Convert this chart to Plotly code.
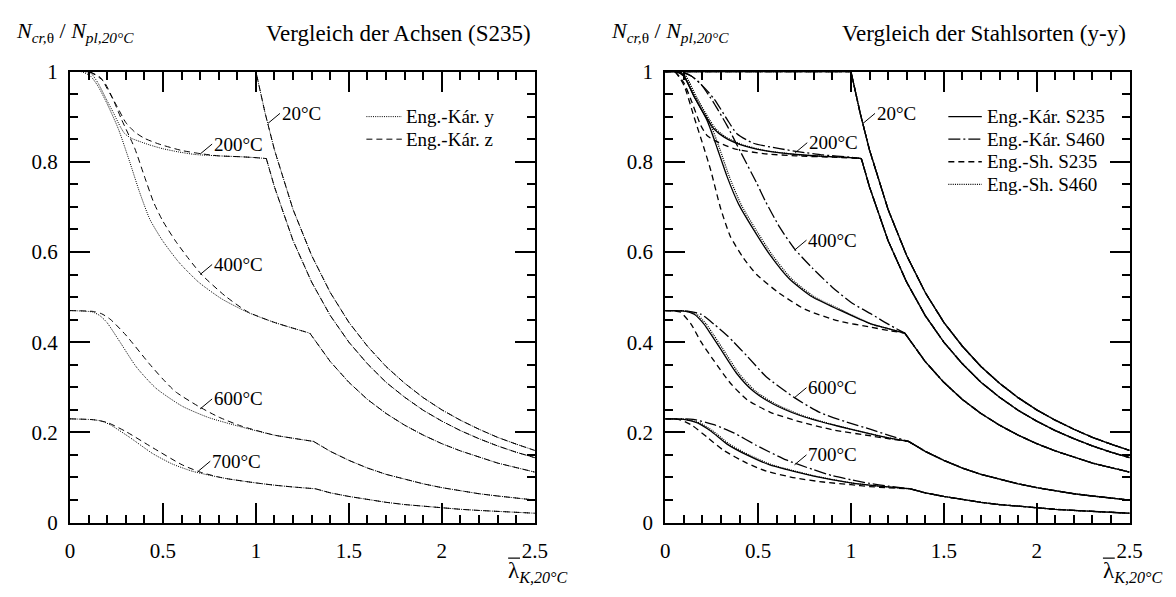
import plotly.graph_objects as go

# ---------------- tick definitions ----------------
X_MAJOR = 0.5
X_MINOR = 0.1
Y_MAJOR = 0.2
Y_MINOR = 0.05

# ---------------- elastic branches (shared by all series) ----------------
T20_x = [0.0, 1.0, 1.05, 1.1, 1.2, 1.3, 1.4, 1.5, 1.6, 1.7, 1.8, 1.9, 2.0, 2.1, 2.2, 2.3, 2.4, 2.5]
T20_y = [1.0, 1.0, 0.907, 0.826, 0.694, 0.592, 0.51, 0.444, 0.391, 0.346, 0.309, 0.277, 0.25, 0.227, 0.207, 0.189, 0.174, 0.16]
T200_x = [1.056, 1.1, 1.2, 1.3, 1.4, 1.5, 1.6, 1.7, 1.8, 1.9, 2.0, 2.1, 2.2, 2.3, 2.4, 2.5]
T200_y = [0.807, 0.744, 0.625, 0.533, 0.459, 0.40, 0.352, 0.311, 0.278, 0.249, 0.225, 0.204, 0.186, 0.170, 0.156, 0.144]
T400_x = [1.29, 1.4, 1.5, 1.6, 1.7, 1.8, 1.9, 2.0, 2.1, 2.2, 2.3, 2.4, 2.5]
T400_y = [0.42, 0.357, 0.311, 0.273, 0.242, 0.216, 0.194, 0.175, 0.159, 0.145, 0.132, 0.122, 0.112]
T600_x = [1.31, 1.4, 1.5, 1.6, 1.7, 1.8, 1.9, 2.0, 2.1, 2.2, 2.3, 2.4, 2.5]
T600_y = [0.18, 0.158, 0.138, 0.121, 0.107, 0.096, 0.086, 0.0775, 0.070, 0.064, 0.059, 0.054, 0.050]
T700_x = [1.32, 1.4, 1.5, 1.6, 1.7, 1.8, 1.9, 2.0, 2.1, 2.2, 2.3, 2.4, 2.5]
T700_y = [0.075, 0.066, 0.058, 0.051, 0.045, 0.040, 0.036, 0.0325, 0.0295, 0.027, 0.0246, 0.0226, 0.0208]

# ---------------- left panel: Vergleich der Achsen (S235) ----------------
L200_y_x = [0, 0.05, 0.11, 0.15, 0.20, 0.233, 0.27, 0.295, 0.33, 0.374, 0.43, 0.498, 0.58, 0.674, 0.80, 0.92, 1.0, 1.056]
L200_y_y = [1.0, 1.0, 0.997, 0.975, 0.935, 0.909, 0.878, 0.862, 0.852, 0.845, 0.837, 0.829, 0.822, 0.816, 0.813, 0.811, 0.809, 0.807]
L200_z_x = [0, 0.10, 0.163, 0.20, 0.25, 0.30, 0.348, 0.40, 0.48, 0.60, 0.70, 0.80, 0.92, 1.0, 1.056]
L200_z_y = [1.0, 1.0, 0.987, 0.962, 0.925, 0.887, 0.866, 0.852, 0.839, 0.825, 0.818, 0.813, 0.811, 0.809, 0.807]
L400_y_x = [0, 0.06, 0.11, 0.15, 0.198, 0.26, 0.321, 0.374, 0.43, 0.498, 0.586, 0.692, 0.816, 0.957, 1.098, 1.24, 1.29]
L400_y_y = [1.0, 1.0, 0.99, 0.968, 0.93, 0.873, 0.80, 0.733, 0.672, 0.625, 0.577, 0.533, 0.496, 0.466, 0.444, 0.426, 0.42]
L400_z_x = [0, 0.10, 0.18, 0.23, 0.277, 0.348, 0.40, 0.45, 0.50, 0.568, 0.64, 0.71, 0.833, 0.957, 1.098, 1.24, 1.29]
L400_z_y = [1.0, 1.0, 0.979, 0.94, 0.894, 0.83, 0.768, 0.71, 0.668, 0.624, 0.584, 0.549, 0.503, 0.467, 0.444, 0.426, 0.42]
L600_y_x = [0, 0.12, 0.16, 0.198, 0.268, 0.357, 0.462, 0.604, 0.745, 0.922, 1.098, 1.2, 1.31]
L600_y_y = [0.47, 0.467, 0.459, 0.444, 0.401, 0.345, 0.298, 0.258, 0.233, 0.212, 0.194, 0.187, 0.18]
L600_z_x = [0, 0.127, 0.17, 0.216, 0.30, 0.427, 0.50, 0.568, 0.69, 0.80, 0.922, 1.098, 1.2, 1.31]
L600_z_y = [0.47, 0.468, 0.463, 0.451, 0.416, 0.352, 0.318, 0.29, 0.258, 0.234, 0.214, 0.194, 0.187, 0.18]
L700_y_x = [0, 0.127, 0.17, 0.216, 0.321, 0.445, 0.55, 0.657, 0.75, 0.85, 1.0, 1.1, 1.2, 1.32]
L700_y_y = [0.23, 0.228, 0.225, 0.217, 0.189, 0.153, 0.13, 0.114, 0.105, 0.097, 0.088, 0.083, 0.079, 0.075]
L700_z_x = [0, 0.127, 0.2, 0.30, 0.445, 0.604, 0.70, 0.80, 0.85, 1.0, 1.1, 1.2, 1.32]
L700_z_y = [0.23, 0.228, 0.222, 0.202, 0.166, 0.128, 0.112, 0.101, 0.097, 0.088, 0.083, 0.079, 0.075]

# ---------------- right panel: Vergleich der Stahlsorten (y-y) ----------------
R200_kS235_x = [0, 0.06, 0.10, 0.156, 0.227, 0.262, 0.315, 0.404, 0.528, 0.704, 0.85, 1.0, 1.056]
R200_kS235_y = [1.0, 1.0, 0.99, 0.944, 0.894, 0.873, 0.855, 0.838, 0.825, 0.816, 0.812, 0.809, 0.807]
R200_kS460_x = [0, 0.08, 0.14, 0.192, 0.262, 0.333, 0.386, 0.475, 0.616, 0.722, 0.85, 1.0, 1.056]
R200_kS460_y = [1.0, 1.0, 0.99, 0.972, 0.94, 0.894, 0.862, 0.841, 0.829, 0.822, 0.815, 0.810, 0.807]
R200_sS235_x = [0, 0.05, 0.10, 0.139, 0.192, 0.225, 0.262, 0.369, 0.528, 0.704, 0.9, 1.056]
R200_sS235_y = [1.0, 1.0, 0.975, 0.937, 0.88, 0.858, 0.848, 0.829, 0.818, 0.813, 0.810, 0.807]
R200_sS460_x = [0, 0.07, 0.11, 0.166, 0.237, 0.272, 0.325, 0.414, 0.535, 0.704, 0.85, 1.0, 1.056]
R200_sS460_y = [1.0, 1.0, 0.99, 0.944, 0.894, 0.873, 0.855, 0.838, 0.825, 0.816, 0.812, 0.809, 0.807]

R400_kS235_x = [0, 0.06, 0.10, 0.156, 0.227, 0.28, 0.333, 0.395, 0.475, 0.563, 0.669, 0.793, 0.934, 1.111, 1.2, 1.29]
R400_kS235_y = [1.0, 1.0, 0.99, 0.944, 0.89, 0.83, 0.767, 0.706, 0.65, 0.594, 0.54, 0.50, 0.472, 0.44, 0.43, 0.42]
R400_kS460_x = [0, 0.08, 0.14, 0.192, 0.262, 0.333, 0.404, 0.492, 0.54, 0.616, 0.696, 0.793, 0.899, 1.005, 1.111, 1.2, 1.29]
R400_kS460_y = [1.0, 1.0, 0.99, 0.972, 0.93, 0.88, 0.823, 0.753, 0.712, 0.655, 0.607, 0.564, 0.522, 0.487, 0.462, 0.44, 0.42]
R400_sS235_x = [0, 0.05, 0.10, 0.156, 0.209, 0.245, 0.298, 0.35, 0.422, 0.492, 0.616, 0.757, 0.934, 1.111, 1.2, 1.29]
R400_sS235_y = [1.0, 1.0, 0.97, 0.898, 0.83, 0.781, 0.697, 0.635, 0.586, 0.55, 0.508, 0.472, 0.447, 0.433, 0.426, 0.42]
R400_sS460_x = [0, 0.07, 0.11, 0.166, 0.237, 0.292, 0.345, 0.407, 0.487, 0.575, 0.681, 0.805, 0.946, 1.111, 1.2, 1.29]
R400_sS460_y = [1.0, 1.0, 0.99, 0.944, 0.89, 0.83, 0.767, 0.706, 0.65, 0.594, 0.54, 0.50, 0.472, 0.44, 0.43, 0.42]

R600_kS235_x = [0, 0.10, 0.156, 0.209, 0.25, 0.298, 0.386, 0.475, 0.581, 0.722, 0.899, 1.111, 1.2, 1.31]
R600_kS235_y = [0.47, 0.469, 0.462, 0.44, 0.415, 0.385, 0.33, 0.291, 0.263, 0.238, 0.217, 0.196, 0.188, 0.18]
R600_kS460_x = [0, 0.12, 0.192, 0.262, 0.333, 0.369, 0.439, 0.545, 0.696, 0.828, 0.969, 1.111, 1.2, 1.31]
R600_kS460_y = [0.47, 0.469, 0.462, 0.44, 0.415, 0.40, 0.37, 0.323, 0.277, 0.245, 0.224, 0.206, 0.194, 0.18]
R600_sS235_x = [0, 0.08, 0.139, 0.192, 0.262, 0.351, 0.439, 0.563, 0.722, 0.899, 1.111, 1.2, 1.31]
R600_sS235_y = [0.47, 0.467, 0.44, 0.401, 0.359, 0.309, 0.273, 0.245, 0.224, 0.206, 0.192, 0.186, 0.18]
R600_sS460_x = [0, 0.11, 0.168, 0.221, 0.262, 0.31, 0.398, 0.487, 0.593, 0.734, 0.905, 1.111, 1.2, 1.31]
R600_sS460_y = [0.47, 0.469, 0.462, 0.44, 0.415, 0.385, 0.33, 0.291, 0.263, 0.238, 0.217, 0.196, 0.188, 0.18]

R700_kS235_x = [0, 0.10, 0.174, 0.245, 0.333, 0.439, 0.563, 0.651, 0.8, 1.0, 1.1, 1.2, 1.32]
R700_kS235_y = [0.23, 0.229, 0.221, 0.203, 0.174, 0.15, 0.128, 0.118, 0.103, 0.088, 0.083, 0.079, 0.075]
R700_kS460_x = [0, 0.15, 0.262, 0.369, 0.492, 0.651, 0.793, 0.9, 1.0, 1.1, 1.2, 1.32]
R700_kS460_y = [0.23, 0.229, 0.217, 0.199, 0.171, 0.139, 0.118, 0.104, 0.095, 0.087, 0.081, 0.075]
R700_sS235_x = [0, 0.08, 0.139, 0.227, 0.315, 0.439, 0.545, 0.7, 0.85, 1.0, 1.1, 1.2, 1.32]
R700_sS235_y = [0.23, 0.228, 0.217, 0.189, 0.16, 0.132, 0.114, 0.099, 0.09, 0.084, 0.08, 0.077, 0.075]
R700_sS460_x = [0, 0.11, 0.186, 0.257, 0.345, 0.451, 0.575, 0.663, 0.81, 1.0, 1.1, 1.2, 1.32]
R700_sS460_y = [0.23, 0.229, 0.221, 0.203, 0.174, 0.15, 0.128, 0.118, 0.103, 0.088, 0.083, 0.079, 0.075]

# ---------------- curve labels ----------------
TEMP_LABELS = ["20°C", "200°C", "400°C", "600°C", "700°C"]
L_LABEL_X = [1.065, 0.70, 0.70, 0.70, 0.69]
L_LABEL_Y = [0.885, 0.817, 0.55, 0.252, 0.114]
R_LABEL_X = [1.065, 0.70, 0.696, 0.696, 0.696]
R_LABEL_Y = [0.885, 0.82, 0.604, 0.277, 0.128]

LEFT_NAMES = ["Eng.-Kár. y", "Eng.-Kár. z"]
RIGHT_NAMES = ["Eng.-Kár. S235", "Eng.-Kár. S460", "Eng.-Sh. S235", "Eng.-Sh. S460"]

# line styles
DOT = "1px,1.2px"
DASH = "6px,4px"
DASHDOT = "12px,3px,2px,3px"
LEFT_STYLES = {LEFT_NAMES[0]: DOT, LEFT_NAMES[1]: DASH}
RIGHT_STYLES = {RIGHT_NAMES[0]: "solid", RIGHT_NAMES[1]: DASHDOT, RIGHT_NAMES[2]: DASH, RIGHT_NAMES[3]: DOT}

TAILS = [(T200_x, T200_y), (T400_x, T400_y), (T600_x, T600_y), (T700_x, T700_y)]

LEFT_SERIES = [
    (LEFT_NAMES[0], [(L200_y_x, L200_y_y), (L400_y_x, L400_y_y), (L600_y_x, L600_y_y), (L700_y_x, L700_y_y)]),
    (LEFT_NAMES[1], [(L200_z_x, L200_z_y), (L400_z_x, L400_z_y), (L600_z_x, L600_z_y), (L700_z_x, L700_z_y)]),
]
RIGHT_SERIES = [
    (RIGHT_NAMES[3], [(R200_sS460_x, R200_sS460_y), (R400_sS460_x, R400_sS460_y), (R600_sS460_x, R600_sS460_y), (R700_sS460_x, R700_sS460_y)]),
    (RIGHT_NAMES[2], [(R200_sS235_x, R200_sS235_y), (R400_sS235_x, R400_sS235_y), (R600_sS235_x, R600_sS235_y), (R700_sS235_x, R700_sS235_y)]),
    (RIGHT_NAMES[1], [(R200_kS460_x, R200_kS460_y), (R400_kS460_x, R400_kS460_y), (R600_kS460_x, R600_kS460_y), (R700_kS460_x, R700_kS460_y)]),
    (RIGHT_NAMES[0], [(R200_kS235_x, R200_kS235_y), (R400_kS235_x, R400_kS235_y), (R600_kS235_x, R600_kS235_y), (R700_kS235_x, R700_kS235_y)]),
]

fig = go.Figure()


def add_panel(series, styles, xa, ya, width):
    for name, branches in series:
        dash = styles[name]
        fig.add_trace(go.Scatter(
            x=T20_x, y=T20_y, mode="lines", xaxis=xa, yaxis=ya, name=name, showlegend=False,
            line=dict(color="black", width=width, dash=dash), hoverinfo="skip"))
        for (bx, by), (tx, ty) in zip(branches, TAILS):
            fig.add_trace(go.Scatter(
                x=bx, y=by, mode="lines", xaxis=xa, yaxis=ya, name=name, showlegend=False,
                line=dict(color="black", width=width, dash=dash, shape="spline", smoothing=0.6),
                hoverinfo="skip"))
            fig.add_trace(go.Scatter(
                x=tx, y=ty, mode="lines", xaxis=xa, yaxis=ya, name=name, showlegend=False,
                line=dict(color="black", width=width, dash=dash), hoverinfo="skip"))


LW_LEFT = 1.0
LW_RIGHT = 1.3
add_panel(LEFT_SERIES, LEFT_STYLES, "x", "y", LW_LEFT)
add_panel(RIGHT_SERIES, RIGHT_STYLES, "x2", "y2", LW_RIGHT)

FONT = "Liberation Serif"
W, H = 1176, 597
L_DOM = [66 / W, 538 / W]
R_DOM = [670.5 / W, 1142 / W]
Y_DOM = [(H - 532) / H, (H - 62) / H]

xcommon = dict(range=[0, 2.5], showgrid=False, zeroline=False, showline=True, linecolor="black",
               linewidth=2, mirror="ticks", ticks="inside", ticklen=20, tickwidth=1.5,
               tickcolor="black", tick0=0, dtick=X_MAJOR, tickfont=dict(size=21, family=FONT),
               ticklabelstandoff=8,
               minor=dict(ticks="inside", ticklen=8, tickwidth=1.5, tickcolor="black",
                          tick0=0, dtick=X_MINOR, showgrid=False))
ycommon = dict(range=[0, 1], showgrid=False, zeroline=False, showline=True, linecolor="black",
               linewidth=2, mirror="ticks", ticks="inside", ticklen=20, tickwidth=1.5,
               tickcolor="black", tick0=0, dtick=Y_MAJOR, tickfont=dict(size=21, family=FONT),
               ticklabelstandoff=6,
               minor=dict(ticks="inside", ticklen=8, tickwidth=1.5, tickcolor="black",
                          tick0=0, dtick=Y_MINOR, showgrid=False))

fig.update_layout(
    width=W, height=H, margin=dict(l=0, r=0, t=0, b=0),
    paper_bgcolor="white", plot_bgcolor="white",
    font=dict(family=FONT, color="black", size=18),
    xaxis=dict(domain=L_DOM, anchor="y", **xcommon),
    yaxis=dict(domain=Y_DOM, anchor="x", **ycommon),
    xaxis2=dict(domain=R_DOM, anchor="y2", **xcommon),
    yaxis2=dict(domain=Y_DOM, anchor="x2", **ycommon),
    showlegend=False,
)

ann = []
shapes = []
YLAB = "<i>N</i><sub><i>cr,</i>θ</sub> / <i>N</i><sub><i>pl,20°C</i></sub>"
XLAB = "λ<sub><i>K,20°C</i></sub>"
for xdom, xr, title in [("x domain", L_DOM, "Vergleich der Achsen (S235)"),
                        ("x2 domain", R_DOM, "Vergleich der Stahlsorten (y-y)")]:
    end_px = xr[1] * W
    ann.append(dict(xref="paper", yref="paper", x=(end_px - 2) / W, y=(H - 22) / H, text=title,
                    showarrow=False, xanchor="right", yanchor="middle", font=dict(size=23, family=FONT)))
    ann.append(dict(xref="paper", yref="paper", x=(xr[0] * W - 57) / W, y=(H - 21) / H, text=YLAB,
                    showarrow=False, xanchor="left", yanchor="middle", font=dict(size=22, family=FONT)))
    ann.append(dict(xref="paper", yref="paper", x=(end_px - 29) / W, y=(H - 583) / H, text=XLAB,
                    showarrow=False, xanchor="left", yanchor="middle", font=dict(size=23, family=FONT)))
    # overbar of lambda
    shapes.append(dict(type="line", xref="paper", yref="paper",
                       x0=(end_px - 27) / W, x1=(end_px - 15) / W,
                       y0=(H - 569) / H, y1=(H - 569) / H,
                       line=dict(color="black", width=1.2)))

# manual legends (sample line + text), rows aligned like the reference
LEG_ROW_Y = [109, 132.5, 156, 179.5]
for names, styles, x0, x1, xt, lw in [(LEFT_NAMES, LEFT_STYLES, 367, 403, 405, LW_LEFT),
                                      (RIGHT_NAMES, RIGHT_STYLES, 958, 992, 995, LW_RIGHT)]:
    for name, ry in zip(names, LEG_ROW_Y):
        shapes.append(dict(type="line", xref="paper", yref="paper", x0=x0 / W, x1=x1 / W,
                           y0=(H - ry) / H, y1=(H - ry) / H,
                           line=dict(color="black", width=lw, dash=styles[name])))
        ann.append(dict(xref="paper", yref="paper", x=xt / W, y=(H - ry) / H, text=name,
                        showarrow=False, xanchor="left", yanchor="middle",
                        font=dict(size=19, family=FONT)))

for xa, ya, lx, ly in [("x", "y", L_LABEL_X, L_LABEL_Y), ("x2", "y2", R_LABEL_X, R_LABEL_Y)]:
    for t, px, py in zip(TEMP_LABELS, lx, ly):
        ann.append(dict(xref=xa, yref=ya, x=px, y=py, text=t, showarrow=True, arrowhead=0,
                        arrowwidth=1, arrowcolor="black", ax=12, ay=-10, xanchor="left",
                        yanchor="middle", font=dict(size=19, family=FONT)))

fig.update_layout(annotations=ann, shapes=shapes)
fig.write_html("out.html")
